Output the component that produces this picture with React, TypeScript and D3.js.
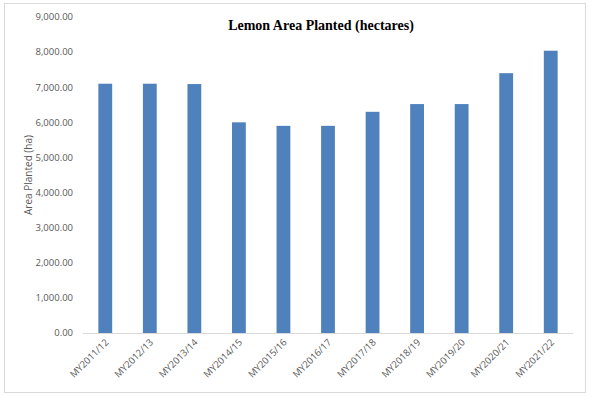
import * as d3 from "d3";
import {useEffect, useRef} from "react";

const categories = [
    "MY2011/12", "MY2012/13", "MY2013/14", "MY2014/15", "MY2015/16", "MY2016/17",
    "MY2017/18", "MY2018/19", "MY2019/20", "MY2020/21", "MY2021/22"
];
const areaPlanted = [7100, 7100, 7090, 6000, 5900, 5900, 6300, 6520, 6520, 7400, 8040];
const yTicks = [0, 1000, 2000, 3000, 4000, 5000, 6000, 7000, 8000, 9000];

const chartTitle = "Lemon Area Planted (hectares)";
const yTitle = "Area Planted (ha)";

function App() {
    const svgRef = useRef<SVGSVGElement | null>(null);

    useEffect(() => {
        const width = 600, height = 397;
        const margin = {top: 17, right: 27, bottom: 64, left: 83};

        const svg = d3.select(svgRef.current);
        svg.selectAll("*").remove();

        // chart frame
        svg.append("rect")
            .attr("x", 4.5).attr("y", 3.5)
            .attr("width", 581).attr("height", 389)
            .attr("fill", "#fff")
            .attr("stroke", "#d9d9d9");

        const x = d3.scaleBand()
            .domain(categories)
            .range([margin.left, width - margin.right])
            .padding(0);

        const y = d3.scaleLinear()
            .domain([0, 9000])
            .range([height - margin.bottom, margin.top]);

        const barW = x.bandwidth() * 0.31;

        svg.append("g")
            .selectAll("rect")
            .data(areaPlanted)
            .enter()
            .append("rect")
            .attr("x", (d, i) => x(categories[i])! + (x.bandwidth() - barW) / 2)
            .attr("y", d => y(d))
            .attr("width", barW)
            .attr("height", d => y(0) - y(d))
            .attr("fill", "#4f81bd");

        // baseline
        svg.append("line")
            .attr("x1", margin.left).attr("x2", width - margin.right)
            .attr("y1", y(0) + 0.5).attr("y2", y(0) + 0.5)
            .attr("stroke", "#d9d9d9");

        const fmt = d3.format(",.2f");
        svg.append("g")
            .selectAll("text")
            .data(yTicks)
            .enter()
            .append("text")
            .attr("x", 73)
            .attr("y", d => y(d))
            .attr("dy", "0.35em")
            .attr("text-anchor", "end")
            .attr("font-family", "Open Sans, sans-serif")
            .attr("font-size", 9.5)
            .attr("fill", "#595959")
            .text(d => fmt(d));

        svg.append("g")
            .selectAll("text")
            .data(categories)
            .enter()
            .append("text")
            .attr("transform", d => `translate(${x(d)! + x.bandwidth() / 2 + 4},${y(0) + 10}) rotate(-45)`)
            .attr("text-anchor", "end")
            .attr("font-family", "Open Sans, sans-serif")
            .attr("font-size", 9.5)
            .attr("fill", "#595959")
            .text(d => d);

        svg.append("text")
            .attr("transform", `translate(32,${(margin.top + height - margin.bottom) / 2}) rotate(-90)`)
            .attr("text-anchor", "middle")
            .attr("font-family", "Open Sans, sans-serif")
            .attr("font-size", 10)
            .attr("fill", "#595959")
            .text(yTitle);

        svg.append("text")
            .attr("x", 321)
            .attr("y", 30)
            .attr("text-anchor", "middle")
            .attr("font-family", "Liberation Serif, serif")
            .attr("font-weight", "bold")
            .attr("font-size", 14)
            .attr("fill", "#000")
            .text(chartTitle);
    }, []);

    return (
        <svg
            ref={svgRef}
            width={600}
            height={397}
            style={{position: "absolute", left: 0, top: 0, background: "#fff"}}
        />
    );
}

export default App;
